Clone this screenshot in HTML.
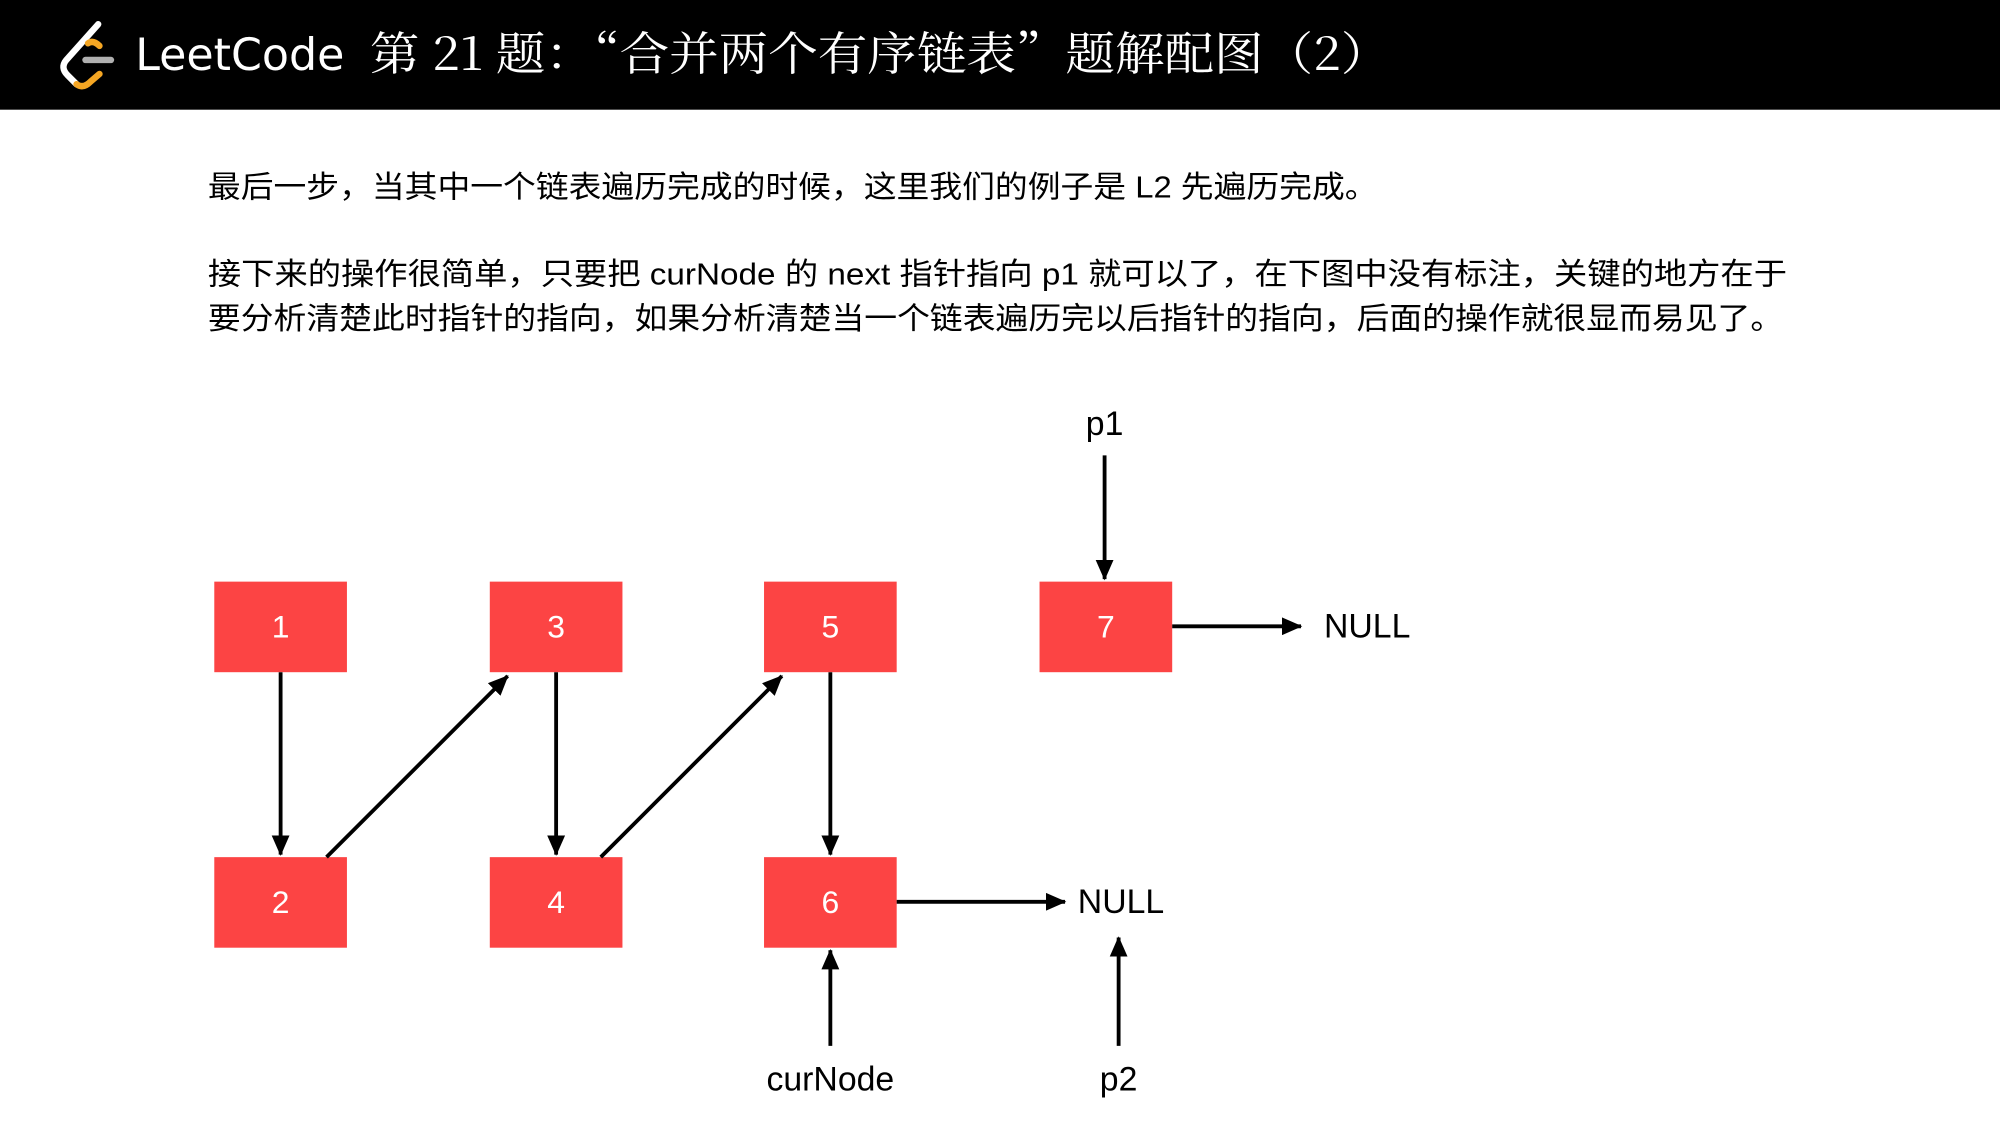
<!DOCTYPE html>
<html><head><meta charset="utf-8">
<style>
html,body{margin:0;padding:0;background:#fff;}
svg{display:block;}
</style></head>
<body>
<svg width="2000" height="1125" viewBox="0 0 1568 882" xmlns="http://www.w3.org/2000/svg">
<defs>
<marker id="ah" markerWidth="16" markerHeight="14" refX="15" refY="7" orient="auto" markerUnits="userSpaceOnUse">
<path d="M0,0 L16,7 L0,14 z" fill="#000"/>
</marker>
</defs>
<rect x="0" y="0" width="1568" height="86" fill="#000"/>
<!-- logo -->
<path d="M77,19 L52,47 Q47,53 53,59 L60,66" stroke="#fff" stroke-width="5" fill="none" stroke-linecap="round"/>
<path d="M69,34 Q73,31 78,36" stroke="#f5a623" stroke-width="5" fill="none" stroke-linecap="round"/>
<path d="M60,66 Q65,70 71,64 L78,58" stroke="#f5a623" stroke-width="5" fill="none" stroke-linecap="round"/>
<line x1="67" y1="47" x2="87" y2="47" stroke="#b0b0b0" stroke-width="5" stroke-linecap="round"/>
<text x="106" y="55" fill="#fff" font-size="35" font-family="'DejaVu Sans','Liberation Sans',sans-serif" textLength="164" lengthAdjust="spacingAndGlyphs">LeetCode</text>
<text x="290" y="55" fill="#fff" font-size="36" font-family="'Noto Serif CJK SC',serif" textLength="800" lengthAdjust="spacingAndGlyphs">第 21 题：“合并两个有序链表”题解配图（2）</text>
<g font-family="'Liberation Sans','Noto Sans CJK SC',sans-serif" font-size="24" fill="#000">
<text x="163" y="155" textLength="917" lengthAdjust="spacingAndGlyphs">最后一步，当其中一个链表遍历完成的时候，这里我们的例子是 L2 先遍历完成。</text>
<text x="163" y="223" textLength="1238" lengthAdjust="spacingAndGlyphs">接下来的操作很简单，只要把 curNode 的 next 指针指向 p1 就可以了，在下图中没有标注，关键的地方在于</text>
<text x="163" y="258" textLength="1235" lengthAdjust="spacingAndGlyphs">要分析清楚此时指针的指向，如果分析清楚当一个链表遍历完以后指针的指向，后面的操作就很显而易见了。</text>
</g>
<g fill="#fc4444">
<rect x="168" y="456" width="104" height="71"/>
<rect x="384" y="456" width="104" height="71"/>
<rect x="599" y="456" width="104" height="71"/>
<rect x="815" y="456" width="104" height="71"/>
<rect x="168" y="672" width="104" height="71"/>
<rect x="384" y="672" width="104" height="71"/>
<rect x="599" y="672" width="104" height="71"/>
</g>
<g fill="#fff" font-family="'Liberation Sans',sans-serif" font-size="25" text-anchor="middle">
<text x="220" y="500">1</text><text x="436" y="500">3</text><text x="651" y="500">5</text><text x="867" y="500">7</text>
<text x="220" y="716">2</text><text x="436" y="716">4</text><text x="651" y="716">6</text>
</g>
<g stroke="#000" stroke-width="3" marker-end="url(#ah)">
<line x1="220" y1="527" x2="220" y2="670"/>
<line x1="256" y1="672" x2="398" y2="530"/>
<line x1="436" y1="527" x2="436" y2="670"/>
<line x1="471" y1="672" x2="613" y2="530"/>
<line x1="651" y1="527" x2="651" y2="670"/>
<line x1="703" y1="707" x2="835" y2="707"/>
<line x1="919" y1="491" x2="1020" y2="491"/>
<line x1="866" y1="357" x2="866" y2="454"/>
<line x1="651" y1="820" x2="651" y2="745"/>
<line x1="877" y1="820" x2="877" y2="735"/>
</g>
<g fill="#000" font-family="'Liberation Sans',sans-serif" font-size="26.5">
<text x="845" y="716">NULL</text>
<text x="1038" y="500">NULL</text>
<text x="866" y="341" text-anchor="middle">p1</text>
<text x="651" y="855" text-anchor="middle">curNode</text>
<text x="877" y="855" text-anchor="middle">p2</text>
</g>
</svg>
</body></html>
